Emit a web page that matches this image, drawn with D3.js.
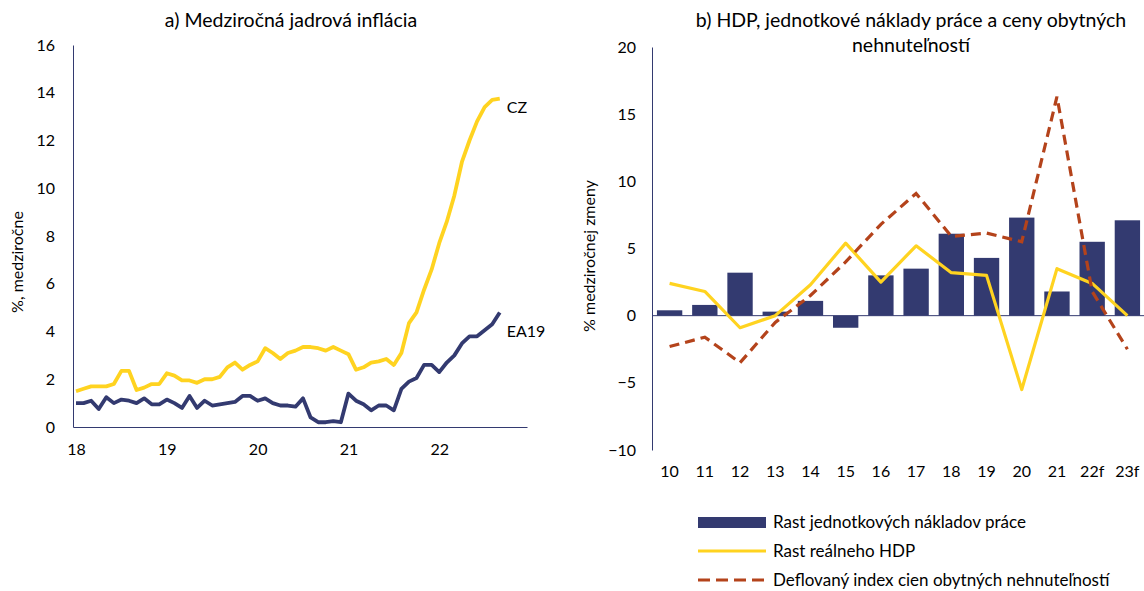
<!DOCTYPE html>
<html>
<head>
<meta charset="utf-8">
<script src="https://cdn.jsdelivr.net/npm/d3@7"></script>
<style>
  body { margin: 0; background: #fff; }
  svg text { font-family: Lato, "Open Sans", sans-serif; fill: #000; }
</style>
</head>
<body>
<svg id="chart" width="1144" height="591"></svg>
<script>
// a) monthly core inflation, Jan 2018 - Sep 2022
const yearLabels = ["18", "19", "20", "21", "22"];
const czCore = [
  1.5, 1.6, 1.7, 1.7, 1.7, 1.8, 2.35, 2.35, 1.55, 1.65, 1.8, 1.8,
  2.25, 2.15, 1.95, 1.95, 1.85, 2.0, 2.0, 2.1, 2.5, 2.7, 2.4, 2.6,
  2.75, 3.3, 3.1, 2.85, 3.1, 3.2, 3.35, 3.35, 3.3, 3.2, 3.35, 3.2,
  3.05, 2.4, 2.5, 2.7, 2.75, 2.85, 2.6, 3.1, 4.35, 4.8, 5.75, 6.6,
  7.7, 8.6, 9.7, 11.1, 12.0, 12.8, 13.4, 13.7, 13.75
];
const eaCore = [
  1.0, 1.0, 1.1, 0.75, 1.25, 1.0, 1.15, 1.1, 1.0, 1.2, 0.95, 0.95,
  1.15, 1.0, 0.8, 1.3, 0.8, 1.1, 0.9, 0.95, 1.0, 1.05, 1.3, 1.3,
  1.1, 1.2, 1.0, 0.9, 0.9, 0.85, 1.2, 0.4, 0.2, 0.2, 0.25, 0.2,
  1.4, 1.1, 0.95, 0.7, 0.9, 0.9, 0.7, 1.6, 1.9, 2.05, 2.6, 2.6,
  2.3, 2.7, 3.0, 3.5, 3.8, 3.8, 4.05, 4.3, 4.8
];

// b) yearly data
const years = ["10", "11", "12", "13", "14", "15", "16", "17", "18", "19", "20", "21", "22f", "23f"];
const ulcGrowth = [0.4, 0.8, 3.2, 0.3, 1.1, -0.9, 3.0, 3.5, 6.1, 4.3, 7.3, 1.8, 5.5, 7.1];
const gdpGrowth = [2.4, 1.8, -0.9, 0.0, 2.3, 5.4, 2.5, 5.2, 3.2, 3.0, -5.5, 3.5, 2.4, 0.0];
const housePrices = [-2.3, -1.6, -3.5, -0.5, 1.5, 4.0, 6.8, 9.1, 5.9, 6.15, 5.5, 16.3, 1.8, -2.5];

const navy = "#333a70";
const yellow = "#ffd320";
const rust = "#b4431b";

const svg = d3.select("#chart");

// ---------- left panel ----------
const xL = d3.scaleLinear().domain([-0.4, 59.6]).range([73, 527]);
const yL = d3.scaleLinear().domain([0, 16]).range([427, 45]);

svg.append("text")
  .attr("x", 291).attr("y", 27)
  .attr("text-anchor", "middle")
  .style("font-size", "19.5px")
  .text("a) Medziročná jadrová inflácia");

const axL = svg.append("g").attr("transform", "translate(73,0)")
  .call(d3.axisLeft(yL).tickValues(d3.range(0, 17, 2)).tickSize(0).tickPadding(18));
axL.select(".domain").attr("stroke", navy);
axL.selectAll("text").style("font-size", "16px").attr("font-family", null);

const axB = svg.append("g").attr("transform", "translate(0,427)")
  .call(d3.axisBottom(xL).tickValues([0, 12, 24, 36, 48])
    .tickFormat((d, i) => yearLabels[i]).tickSize(0).tickPadding(17));
axB.select(".domain").attr("stroke", navy);
axB.selectAll("text").style("font-size", "16px").attr("font-family", null);

svg.append("text")
  .attr("transform", "translate(23,262) rotate(-90)")
  .attr("text-anchor", "middle")
  .style("font-size", "16px")
  .text("%, medziročne");

const lineL = d3.line().x((d, i) => xL(i)).y(d => yL(d));

svg.append("path").datum(czCore)
  .attr("d", lineL).attr("fill", "none")
  .attr("stroke", yellow).attr("stroke-width", 3.8).attr("stroke-linejoin", "round");
svg.append("path").datum(eaCore)
  .attr("d", lineL).attr("fill", "none")
  .attr("stroke", navy).attr("stroke-width", 3.8).attr("stroke-linejoin", "round");

const lastL = czCore.length - 1;
svg.append("text")
  .attr("x", xL(lastL) + 7).attr("y", yL(czCore[lastL]) + 14)
  .style("font-size", "16px").text("CZ");
svg.append("text")
  .attr("x", xL(lastL) + 7).attr("y", yL(eaCore[lastL]) + 25)
  .style("font-size", "16px").text("EA19");

// ---------- right panel ----------
const xR = d3.scaleBand().domain(years).range([652, 1145]).paddingInner(0.28).paddingOuter(0.14);
const yR = d3.scaleLinear().domain([-10, 20]).range([450, 47]);

const titleR = svg.append("text")
  .attr("x", 911).attr("text-anchor", "middle").style("font-size", "19.5px");
titleR.append("tspan").attr("x", 911).attr("y", 27).text("b) HDP, jednotkové náklady práce a ceny obytných");
titleR.append("tspan").attr("x", 911).attr("y", 52).text("nehnuteľností");

svg.append("text")
  .attr("transform", "translate(595,256) rotate(-90)")
  .attr("text-anchor", "middle")
  .style("font-size", "16px")
  .text("% medziročnej zmeny");

svg.append("g").selectAll("rect").data(ulcGrowth).join("rect")
  .attr("x", (d, i) => xR(years[i]))
  .attr("width", xR.bandwidth())
  .attr("y", d => yR(Math.max(0, d)))
  .attr("height", d => Math.abs(yR(d) - yR(0)))
  .attr("fill", navy);

const axR = svg.append("g").attr("transform", "translate(652,0)")
  .call(d3.axisLeft(yR).tickValues(d3.range(-10, 21, 5)).tickSize(0).tickPadding(16));
axR.select(".domain").attr("stroke", navy);
axR.selectAll("text").style("font-size", "16px").attr("font-family", null);

svg.append("line")
  .attr("x1", 652).attr("x2", 1145)
  .attr("y1", yR(0)).attr("y2", yR(0))
  .attr("stroke", navy).attr("stroke-width", 1);

const axRB = svg.append("g").attr("transform", "translate(0,450)")
  .call(d3.axisBottom(xR).tickSize(0).tickPadding(16));
axRB.select(".domain").remove();
axRB.selectAll("text").style("font-size", "16px").attr("font-family", null);

const lineR = d3.line().x((d, i) => xR(years[i]) + xR.bandwidth() / 2).y(d => yR(d));

svg.append("path").datum(gdpGrowth)
  .attr("d", lineR).attr("fill", "none")
  .attr("stroke", yellow).attr("stroke-width", 3.2).attr("stroke-linejoin", "round");
svg.append("path").datum(housePrices)
  .attr("d", lineR).attr("fill", "none")
  .attr("stroke", rust).attr("stroke-width", 3.2).attr("stroke-dasharray", "10,6");

// legend
const legend = [
  {label: "Rast jednotkových nákladov práce", type: "bar", color: navy},
  {label: "Rast reálneho HDP", type: "line", color: yellow},
  {label: "Deflovaný index cien obytných nehnuteľností", type: "dash", color: rust}
];
const lg = svg.append("g").selectAll("g").data(legend).join("g")
  .attr("transform", (d, i) => `translate(698,${522 + i * 29})`);
lg.each(function(d) {
  const g = d3.select(this);
  if (d.type === "bar") {
    g.append("rect").attr("x", 0).attr("y", -5).attr("width", 68).attr("height", 11).attr("fill", d.color);
  } else {
    g.append("line").attr("x1", 0).attr("x2", 68).attr("y1", 0).attr("y2", 0)
      .attr("stroke", d.color).attr("stroke-width", 3.2)
      .attr("stroke-dasharray", d.type === "dash" ? "12,6" : null);
  }
});
lg.append("text").attr("x", 75).attr("y", 6).style("font-size", "17px").text(d => d.label);
</script>
</body>
</html>
